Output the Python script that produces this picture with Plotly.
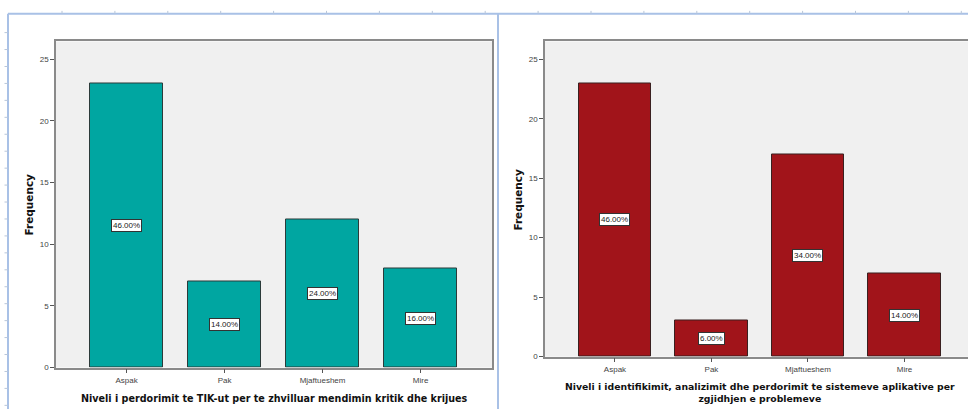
import plotly.graph_objects as go

# Response categories and frequencies for the two survey questions
categories = ["Aspak", "Pak", "Mjaftueshem", "Mire"]
freq_tik = [23, 7, 12, 8]
freq_sistemet = [23, 3, 17, 7]

title_tik = "Niveli i perdorimit te TIK-ut per te zhvilluar mendimin kritik dhe krijues"
title_sistemet = ("Niveli i identifikimit, analizimit dhe perdorimit te sistemeve aplikative per"
                  "<br>zgjidhjen e problemeve")

W, H = 968, 414
TEAL = "#00A6A1"
DARKRED = "#A1141A"
FRAME = "#8a8a8a"
RULER = "#a9c1e6"
TICK_FONT = dict(family="Liberation Sans, Arial", size=8, color="#444444")


def px_x(p):
    return p / W


def px_y(p):
    return 1 - p / H


fig = go.Figure()

fig.add_trace(go.Bar(
    x=list(range(len(categories))), y=freq_tik, width=0.75,
    marker=dict(color=TEAL, line=dict(color="#2b3b3a", width=1)),
    xaxis="x", yaxis="y", showlegend=False, hoverinfo="skip",
))
fig.add_trace(go.Bar(
    x=list(range(len(categories))), y=freq_sistemet, width=0.75,
    marker=dict(color=DARKRED, line=dict(color="#3a2020", width=1)),
    xaxis="x2", yaxis="y2", showlegend=False, hoverinfo="skip",
))

common_x = dict(
    tickmode="array", tickvals=list(range(len(categories))), ticktext=categories,
    ticks="outside", ticklen=4, tickcolor="#555555", tickfont=TICK_FONT,
    showline=True, linecolor=FRAME, linewidth=1.5, showgrid=False, zeroline=False,
    fixedrange=True,
)
common_y = dict(
    tickvals=[0, 5, 10, 15, 20, 25], ticks="outside", ticklen=4, tickcolor="#555555",
    tickfont=TICK_FONT, showline=True, linecolor=FRAME, linewidth=1.5,
    showgrid=False, zeroline=False, fixedrange=True,
)

fig.update_layout(
    width=W, height=H, margin=dict(l=0, r=0, t=0, b=0),
    paper_bgcolor="white", plot_bgcolor="#F0F0F0",
    xaxis=dict(domain=[px_x(56), px_x(492)], range=[-0.72, 3.729], anchor="y",
               mirror=True, **common_x),
    yaxis=dict(domain=[px_y(372), px_y(42)], range=[0, 26.44], anchor="x",
               mirror=True, **common_y),
    xaxis2=dict(domain=[px_x(545), 1.0], range=[-0.725, 3.658], anchor="y2",
                mirror=True, **common_x),
    yaxis2=dict(domain=[px_y(361), px_y(42)], range=[0, 26.49], anchor="x2",
                mirror=False, **common_y),
    bargap=0,
)

annotations = []

# Percentage labels in the middle of each bar
for xa, ya, values in (("x", "y", freq_tik), ("x2", "y2", freq_sistemet)):
    total = sum(values)
    for i, v in enumerate(values):
        annotations.append(dict(
            x=i, y=v / 2, xref=xa, yref=ya, showarrow=False,
            text=f"{v / total * 100:.2f}%",
            font=dict(family="Liberation Sans, Arial", size=8, color="#222222"),
            bgcolor="white", bordercolor="#333333", borderwidth=1, borderpad=1,
        ))

# Axis titles
for xp, yp in ((28, 207), (518, 202)):
    annotations.append(dict(
        x=px_x(xp), y=px_y(yp), xref="paper", yref="paper", showarrow=False,
        text="<b>Frequency</b>", textangle=-90, xanchor="center", yanchor="middle",
        font=dict(family="DejaVu Sans", size=10.5, color="#111111"),
    ))
annotations.append(dict(
    x=px_x(274), y=px_y(403), xref="paper", yref="paper", showarrow=False,
    text=f"<b>{title_tik}</b>", xanchor="center", yanchor="middle",
    font=dict(family="DejaVu Sans", size=9.6, color="#111111"),
))
annotations.append(dict(
    x=px_x(760), y=px_y(397.5), xref="paper", yref="paper", showarrow=False,
    text=f"<b>{title_sistemet}</b>", xanchor="center", yanchor="middle",
    font=dict(family="DejaVu Sans", size=9.3, color="#111111"),
))
fig.update_layout(annotations=annotations)

# Page frame with ruler-style marks around the two panels
shapes = [
    dict(type="line", xref="paper", yref="paper", x0=px_x(8), x1=1, y0=px_y(14), y1=px_y(14),
         line=dict(color=RULER, width=2)),
    dict(type="line", xref="paper", yref="paper", x0=px_x(8), x1=px_x(8), y0=px_y(14), y1=0,
         line=dict(color=RULER, width=2)),
    dict(type="line", xref="paper", yref="paper", x0=px_x(498), x1=px_x(498), y0=px_y(14), y1=0,
         line=dict(color=RULER, width=2)),
]
tx = 62.0
while tx < W:
    shapes.append(dict(type="line", xref="paper", yref="paper", x0=px_x(tx), x1=px_x(tx),
                       y0=px_y(14), y1=px_y(11), line=dict(color="#b8c6da", width=1)))
    tx += 52.9
ty = 33.0
while ty < H:
    shapes.append(dict(type="line", xref="paper", yref="paper", x0=px_x(4.5), x1=px_x(8),
                       y0=px_y(ty), y1=px_y(ty), line=dict(color="#b8c6da", width=1)))
    ty += 17.15
fig.update_layout(shapes=shapes)

fig.write_html("out.html")
